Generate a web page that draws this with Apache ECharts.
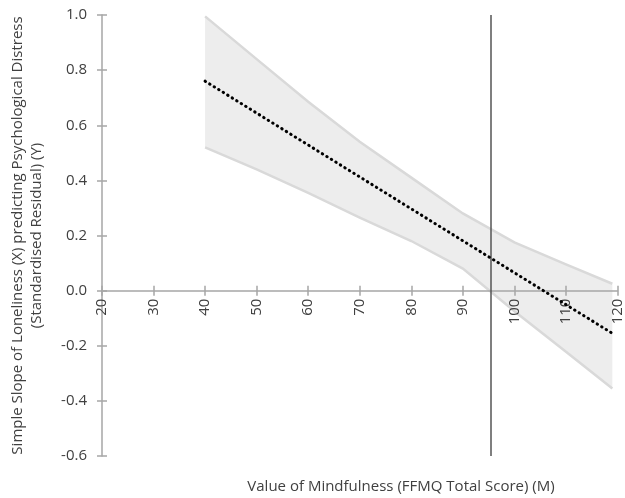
<!DOCTYPE html>
<html>
<head>
<meta charset="utf-8">
<script src="https://cdn.jsdelivr.net/npm/echarts@6/dist/echarts.min.js"></script>
<style>
  html, body { margin: 0; padding: 0; background: #fff; }
  #chart { width: 625px; height: 498px; }
</style>
</head>
<body>
<div id="chart"></div>
<script>
// band x positions (FFMQ total score)
var bandX = [40, 50, 60, 70, 80, 90, 100, 110, 119];
var bandUpper = [0.995, 0.84, 0.685, 0.54, 0.41, 0.28, 0.175, 0.095, 0.025];
var bandLower = [0.52, 0.44, 0.355, 0.265, 0.18, 0.08, -0.075, -0.222, -0.355];
// simple slope line (end points)
var slopeX = [40, 119];
var slopeY = [0.76, -0.155];
// mean of mindfulness
var markX = 95.4;

var yMin = -0.6, yMax = 1.0;
var gridTop = 15, gridBottom = 42, chartH = 498;

var textColor = "#404040";
var axisColor = "#a6a6a6";
var fontFamily = "Open Sans";

// x axis sits on y = 0, lift it up from the grid bottom
var plotH = chartH - gridTop - gridBottom;
var xAxisOffset = -plotH * (0 - yMin) / (yMax - yMin);

var bandData = bandX.map(function (x, i) { return [x, bandLower[i], bandUpper[i]]; });
var slopeData = slopeX.map(function (x, i) { return [x, slopeY[i]]; });

function renderBand(params, api) {
  if (params.dataIndex !== 0) return;
  var upper = [], lower = [];
  for (var i = 0; i < bandX.length; i++) {
    upper.push(api.coord([bandX[i], bandUpper[i]]));
    lower.push(api.coord([bandX[i], bandLower[i]]));
  }
  var poly = upper.concat(lower.slice().reverse());
  var edge = { stroke: "#d9d9d9", lineWidth: 2.5, fill: null };
  return {
    type: "group",
    children: [
      { type: "polygon", shape: { points: poly }, style: { fill: "#ededed" } },
      { type: "polyline", shape: { points: upper }, style: edge },
      { type: "polyline", shape: { points: lower }, style: edge }
    ]
  };
}

var tickStyle = { color: axisColor, width: 1.5 };

var myChart = echarts.init(document.getElementById("chart"));
var option = {
  animation: false,
  title: {
    text: "Value of Mindfulness (FFMQ Total Score) (M)",
    left: 396,
    top: 474,
    textAlign: "center",
    textStyle: {
      color: textColor,
      fontSize: 15,
      fontWeight: "normal",
      fontFamily: fontFamily
    }
  },
  grid: {
    left: 100,
    right: 7,
    top: gridTop,
    bottom: gridBottom
  },
  xAxis: [
    {
      type: "value",
      min: 20,
      max: 120,
      interval: 10,
      z: 3,
      offset: xAxisOffset,
      axisLine: { onZero: false, lineStyle: tickStyle },
      axisTick: { show: true, length: 5, lineStyle: tickStyle },
      axisLabel: {
        rotate: 90,
        margin: 8,
        color: textColor,
        fontSize: 15,
        fontFamily: fontFamily
      },
      splitLine: { show: false }
    },
    {
      type: "value",
      position: "bottom",
      min: 20,
      max: 120,
      interval: 10,
      z: 3,
      offset: xAxisOffset,
      axisLine: { show: false, onZero: false },
      axisTick: { show: true, inside: true, length: 5, lineStyle: tickStyle },
      axisLabel: { show: false },
      splitLine: { show: false }
    }
  ],
  yAxis: [
    {
      type: "value",
      min: yMin,
      max: yMax,
      interval: 0.2,
      name: "Simple Slope of Loneliness (X) predicting Psychological Distress\n(Standardised Residual) (Y)",
      nameLocation: "middle",
      nameGap: 56,
      nameTextStyle: {
        color: textColor,
        fontSize: 15,
        lineHeight: 19,
        fontFamily: fontFamily
      },
      axisLine: { show: true, onZero: false, lineStyle: tickStyle },
      axisTick: { show: true, length: 5, lineStyle: tickStyle },
      axisLabel: {
        margin: 15,
        color: textColor,
        fontSize: 15,
        fontFamily: fontFamily,
        formatter: function (v) { return v.toFixed(1); }
      },
      splitLine: { show: false }
    },
    {
      type: "value",
      position: "left",
      min: yMin,
      max: yMax,
      interval: 0.2,
      axisLine: { show: false, onZero: false },
      axisTick: { show: true, inside: true, length: 5, lineStyle: tickStyle },
      axisLabel: { show: false },
      splitLine: { show: false }
    }
  ],
  series: [
    {
      name: "band",
      type: "custom",
      renderItem: renderBand,
      data: bandData,
      encode: { x: 0, y: [1, 2] },
      silent: true,
      z: 1
    },
    {
      name: "slope",
      type: "line",
      data: slopeData,
      symbol: "none",
      lineStyle: { color: "#000", width: 3, type: [0.5, 4.8], cap: "round" },
      markLine: {
        silent: true,
        symbol: "none",
        label: { show: false },
        lineStyle: { color: "#555", width: 1.5, type: "solid" },
        data: [{ xAxis: markX }]
      },
      z: 5
    }
  ]
};
myChart.setOption(option);
</script>
</body>
</html>
